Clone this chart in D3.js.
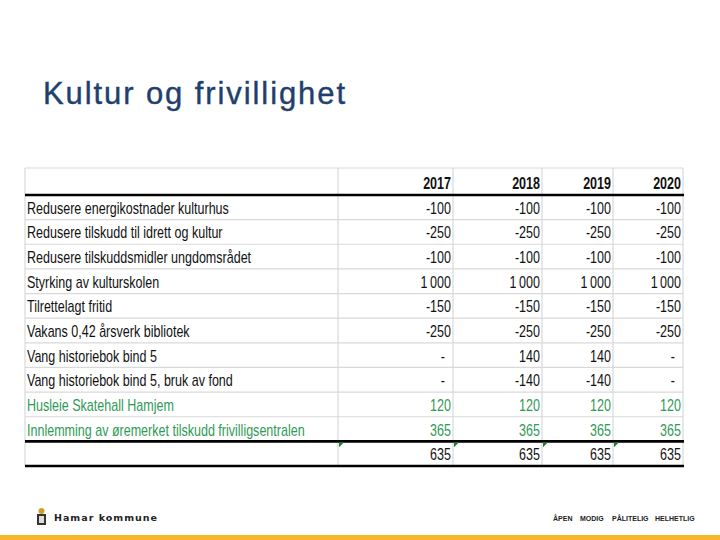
<!DOCTYPE html>
<html><head><meta charset="utf-8">
<script src="https://cdn.jsdelivr.net/npm/d3@7"></script>
<style>body{margin:0;background:#fff}svg{display:block}</style>
</head><body>
<script>
const title = "Kultur og frivillighet";
const years = ["2017", "2018", "2019", "2020"];
const labels = [
  "Redusere energikostnader kulturhus",
  "Redusere tilskudd til idrett og kultur",
  "Redusere tilskuddsmidler ungdomsrådet",
  "Styrking av kulturskolen",
  "Tilrettelagt fritid",
  "Vakans 0,42 årsverk bibliotek",
  "Vang historiebok bind 5",
  "Vang historiebok bind 5, bruk av fond",
  "Husleie Skatehall Hamjem",
  "Innlemming av øremerket tilskudd frivilligsentralen"
];
const greenRows = ["Husleie Skatehall Hamjem", "Innlemming av øremerket tilskudd frivilligsentralen"];
const v2017 = [-100, -250, -100, 1000, -150, -250, null, null, 120, 365];
const v2018 = [-100, -250, -100, 1000, -150, -250, 140, -140, 120, 365];
const v2019 = [-100, -250, -100, 1000, -150, -250, 140, -140, 120, 365];
const v2020 = [-100, -250, -100, 1000, -150, -250, null, null, 120, 365];
const totals = [635, 635, 635, 635];
const footerValues = ["ÅPEN", "MODIG", "PÅLITELIG", "HELHETLIG"];

const W = 720, H = 540;
const svg = d3.select("body").append("svg").attr("width", W).attr("height", H);
const FONT = "'Liberation Sans Narrow','Liberation Sans',Arial,sans-serif";
const green = "#2f9a57";

// title
svg.append("text").attr("x", 43).attr("y", 104)
  .attr("font-family", "'Liberation Sans',Arial,sans-serif").attr("font-size", 31)
  .attr("textLength", 302).attr("lengthAdjust", "spacing")
  .attr("stroke", "#1f3f6e").attr("stroke-width", 0.4)
  .attr("fill", "#1f3f6e").text(title);

// table geometry
const colEdges = [25, 338, 453, 542, 613, 683];
const rowKeys = d3.range(labels.length + 1);
const y = d3.scaleBand().domain(rowKeys).range([195, 466]).padding(0);
const headerTop = 168;
const xRight = d3.scaleOrdinal().domain(years).range(colEdges.slice(2).map(e => e - 2));

const g = svg.append("g");
const grid = "#d9d9d9";
[headerTop, ...rowKeys.map(k => y(k) + y.bandwidth())].forEach(yy => {
  g.append("line").attr("x1", 25).attr("x2", 683).attr("y1", yy).attr("y2", yy)
    .attr("stroke", grid).attr("stroke-width", 1.2);
});
colEdges.forEach(xx => {
  g.append("line").attr("x1", xx).attr("x2", xx).attr("y1", headerTop).attr("y2", 466)
    .attr("stroke", grid).attr("stroke-width", 1.2);
});
[y(0), y(labels.length), y(labels.length) + y.bandwidth()].forEach(yy => {
  g.append("line").attr("x1", 25).attr("x2", 684).attr("y1", yy).attr("y2", yy)
    .attr("stroke", "#000").attr("stroke-width", 2.6);
});
colEdges.slice(1, 5).forEach(xx => {
  const t = y(labels.length) + 1;
  g.append("path").attr("d", `M${xx + 1},${t} L${xx + 6},${t} L${xx + 1},${t + 5} Z`).attr("fill", "#1e7b34");
});

const texts = [];
function addText(x, yy, str, opts) {
  const t = g.append("text").attr("x", x).attr("y", yy)
    .attr("font-family", FONT).attr("font-size", opts.size || 16)
    .attr("font-weight", opts.bold ? "bold" : "normal")
    .attr("fill", opts.fill || "#111")
    .attr("text-anchor", opts.anchor || "start").text(str);
  texts.push(t);
  return t;
}
years.forEach(yr => addText(xRight(yr), 189, yr, {anchor: "end", bold: true}));
const fmt = v => v === null ? "-" : (Math.abs(v) >= 1000 ? d3.format(",")(v).replace(",", "\u2009") : String(v));
const series = [v2017, v2018, v2019, v2020];
const off = 6.5;
labels.forEach((lab, i) => {
  const cy = y(i) + y.bandwidth() / 2 + off;
  const fill = greenRows.includes(lab) ? green : "#111";
  addText(27, cy, lab, {fill});
  years.forEach((yr, j) => {
    const v = series[j][i];
    addText(v === null ? xRight(yr) - 6 : xRight(yr), cy, fmt(v), {anchor: "end", fill});
  });
});
const ty = y(labels.length) + y.bandwidth() / 2 + off;
years.forEach((yr, j) => addText(xRight(yr), ty, String(totals[j]), {anchor: "end"}));

const ref = texts.find(t => t.text() === labels[0]);
const w = ref.node().getComputedTextLength();
const k = Math.min(1, 202 / w);
texts.forEach(t => {
  const x = +t.attr("x");
  t.attr("transform", `translate(${x},0) scale(${k},1) translate(${-x},0)`);
});

// footer
const logo = svg.append("g").attr("transform", "translate(36,507)");
logo.append("rect").attr("x", 1).attr("y", 7).attr("width", 9).attr("height", 11).attr("fill", "#333");
logo.append("rect").attr("x", 3).attr("y", 9).attr("width", 5).attr("height", 7).attr("fill", "#ddd");
logo.append("circle").attr("cx", 5.5).attr("cy", 4).attr("r", 3).attr("fill", "#c9a227");
svg.append("text").attr("x", 54).attr("y", 521).attr("font-family", "'DejaVu Sans',sans-serif")
  .attr("font-size", 9.5).attr("font-weight", "bold")
  .attr("textLength", 103).attr("lengthAdjust", "spacing")
  .attr("fill", "#222").text("Hamar kommune");
const fxPos = [553, 580, 612, 655];
footerValues.forEach((s, i) => {
  svg.append("text").attr("x", fxPos[i]).attr("y", 521).attr("font-family", "'Liberation Sans',sans-serif")
    .attr("font-size", 7).attr("font-weight", "bold").attr("fill", "#222").text(s);
});
svg.append("rect").attr("x", 0).attr("y", 535).attr("width", W).attr("height", 5).attr("fill", "#f6b828");
</script>
</body></html>
